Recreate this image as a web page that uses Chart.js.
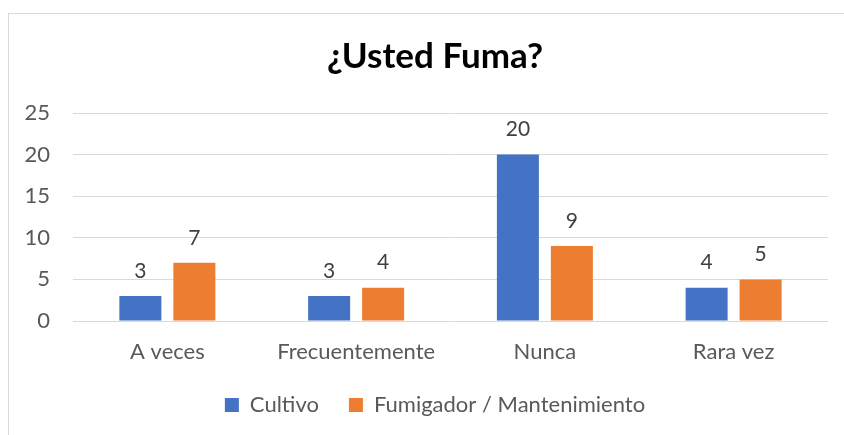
<!DOCTYPE html>
<html>
<head>
<meta charset="utf-8">
<script src="https://cdn.jsdelivr.net/npm/chart.js@4.4.0/dist/chart.umd.min.js"></script>
<style>
  html, body { margin: 0; padding: 0; background: #fff; overflow: hidden; width: 844px; height: 435px; }
  #box { position: absolute; left: 8px; top: 13px; width: 852px; height: 430px; border: 1px solid #D9D9D9; background: #fff; }
  #c { position: absolute; left: 0; top: 0; }
</style>
</head>
<body>
<div id="box"><canvas id="c" width="852" height="421"></canvas></div>
<script>
const categories = ["A veces", "Frecuentemente", "Nunca", "Rara vez"];
const seriesNames = ["Cultivo", "Fumigador / Mantenimiento"];
const cultivo = [3, 3, 20, 4];
const fumigador = [7, 4, 9, 5];
const yTicks = [0, 5, 10, 15, 20, 25];
const titleText = "¿Usted Fuma?";

const FONT = "Lato, 'Open Sans', sans-serif";

const valueLabels = {
  id: 'valueLabels',
  afterDatasetsDraw(chart) {
    const ctx = chart.ctx;
    ctx.save();
    ctx.font = "21px " + FONT;
    ctx.fillStyle = "#404040";
    ctx.textAlign = "center";
    ctx.textBaseline = "middle";
    chart.data.datasets.forEach((ds, i) => {
      chart.getDatasetMeta(i).data.forEach((bar, j) => {
        ctx.fillText(String(ds.data[j]), bar.x, bar.y - 25);
      });
    });
    ctx.restore();
  }
};

new Chart(document.getElementById('c'), {
  type: 'bar',
  data: {
    labels: categories,
    datasets: [
      { label: seriesNames[0], data: cultivo, backgroundColor: '#4472C4', barPercentage: 0.778, categoryPercentage: 0.572 },
      { label: seriesNames[1], data: fumigador, backgroundColor: '#ED7D31', barPercentage: 0.778, categoryPercentage: 0.572 }
    ]
  },
  options: {
    responsive: false,
    animation: false,
    devicePixelRatio: 1,
    layout: { padding: { left: 0, right: 0, top: 0, bottom: 9 } },
    plugins: {
      title: {
        display: true,
        text: titleText,
        color: '#000',
        font: { family: FONT, size: 35, weight: 'bold', lineHeight: 1.2 },
        padding: { top: 22.2, bottom: 34.8 }
      },
      legend: {
        position: 'bottom',
        labels: {
          color: '#595959',
          font: { family: FONT, size: 22 },
          boxWidth: 14,
          boxHeight: 14,
          padding: 30
        }
      },
      tooltip: { enabled: false }
    },
    scales: {
      x: {
        grid: { display: false, drawTicks: false },
        border: { display: false },
        ticks: { color: '#595959', font: { family: FONT, size: 22 }, padding: 18 },
        afterFit(scale) { scale.height = 43; }
      },
      y: {
        min: 0, max: 25,
        afterBuildTicks(scale) { scale.ticks = yTicks.map(v => ({ value: v })); },
        grid: { color: '#D9D9D9', lineWidth: 1, drawTicks: false },
        border: { display: false },
        ticks: { color: '#595959', font: { family: FONT, size: 22 }, padding: 23 },
        afterFit(scale) { scale.width = 64; }
      },
      y2: {
        type: 'linear',
        position: 'right',
        display: true,
        grid: { display: false, drawTicks: false },
        border: { display: false },
        ticks: { display: false },
        afterFit(scale) { scale.width = 33; }
      }
    }
  },
  plugins: [valueLabels]
});
</script>
</body>
</html>
